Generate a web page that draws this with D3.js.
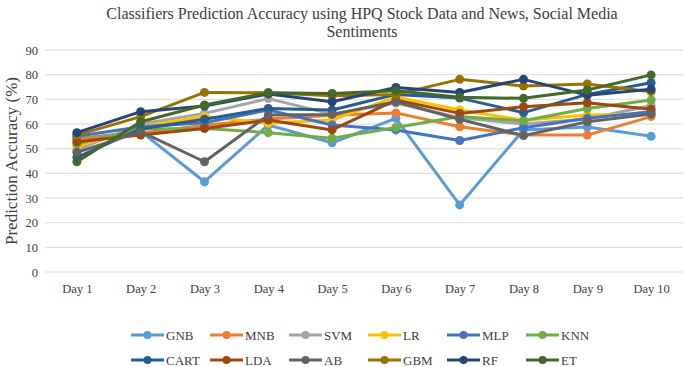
<!DOCTYPE html>
<html>
<head>
<meta charset="utf-8">
<script src="https://cdn.jsdelivr.net/npm/d3@7"></script>
<style>
  body { margin: 0; background: #fff; }
  svg text { font-family: "Liberation Serif", "Times New Roman", Tinos, "DejaVu Serif", serif !important; fill: #404040; }
</style>
</head>
<body>
<div id="graph"></div>
<script>
// chart data
const days = ['Day 1', 'Day 2', 'Day 3', 'Day 4', 'Day 5', 'Day 6', 'Day 7', 'Day 8', 'Day 9', 'Day 10'];
const yTicks = [0, 10, 20, 30, 40, 50, 60, 70, 80, 90];

const GNB  = [54.0, 57.0, 36.6, 59.6, 52.4, 62.3, 27.2, 57.6, 58.8, 55.0];
const MNB  = [54.0, 56.3, 59.5, 62.0, 63.5, 64.5, 58.9, 55.5, 55.5, 63.0];
const SVM  = [49.5, 60.0, 64.3, 70.3, 64.0, 68.5, 62.5, 60.0, 62.0, 67.5];
const LR   = [50.8, 59.0, 63.0, 60.3, 61.6, 71.0, 65.7, 61.5, 63.6, 64.0];
const MLP  = [55.0, 58.9, 60.5, 65.7, 59.6, 57.6, 53.3, 58.5, 62.3, 65.0];
const KNN  = [52.0, 58.0, 58.2, 56.5, 54.2, 58.6, 63.0, 61.3, 66.3, 69.7];
const CART = [46.5, 58.0, 61.9, 66.3, 65.7, 72.0, 70.5, 64.6, 72.0, 76.7];
const LDA  = [52.8, 55.5, 58.2, 61.6, 57.6, 69.7, 64.3, 67.0, 68.6, 66.0];
const AB   = [48.5, 56.9, 44.7, 63.6, 63.9, 69.0, 61.9, 55.3, 60.9, 64.0];
const GBM  = [55.5, 63.0, 72.8, 72.7, 71.5, 72.0, 78.1, 75.4, 76.2, 73.1];
const RF   = [56.5, 65.0, 67.3, 72.2, 69.0, 74.8, 72.8, 78.1, 71.7, 74.1];
const ET   = [44.7, 60.9, 67.7, 72.7, 72.4, 73.5, 70.8, 70.4, 73.8, 79.9];

const seriesNames = ['GNB', 'MNB', 'SVM', 'LR', 'MLP', 'KNN', 'CART', 'LDA', 'AB', 'GBM', 'RF', 'ET'];
const seriesValues = [GNB, MNB, SVM, LR, MLP, KNN, CART, LDA, AB, GBM, RF, ET];
const colors = ['#5B9BD5', '#ED7D31', '#A5A5A5', '#FFC000', '#4472C4', '#70AD47',
                '#255E91', '#9E480E', '#636363', '#997300', '#264478', '#43682B'];

const series = seriesNames.map((name, i) => ({ name, values: seriesValues[i], color: colors[i] }));

const svgWidth = 685;
const svgHeight = 367;
const margin = { top: 50, right: 2, bottom: 95, left: 45 };

const svg = d3.select('#graph')
  .append('svg')
  .attr('width', svgWidth)
  .attr('height', svgHeight);

const x = d3.scalePoint()
  .domain(days)
  .range([margin.left, svgWidth - margin.right])
  .padding(0.5);

const y = d3.scaleLinear()
  .domain([0, 90])
  .range([svgHeight - margin.bottom, margin.top]);

// gridlines
svg.append('g')
  .selectAll('line')
  .data(yTicks)
  .join('line')
  .attr('x1', margin.left)
  .attr('x2', svgWidth - margin.right)
  .attr('y1', d => y(d))
  .attr('y2', d => y(d))
  .attr('stroke', '#d9d9d9')
  .attr('stroke-width', 1);

// y axis labels
const yAxis = svg.append('g')
  .attr('transform', `translate(${margin.left}, 0)`)
  .call(d3.axisLeft(y).tickValues(yTicks).tickSize(0).tickPadding(7));
yAxis.select('.domain').remove();
yAxis.selectAll('text').attr('font-size', 12.5);

// x axis labels
const xAxis = svg.append('g')
  .attr('transform', `translate(0, ${y(0)})`)
  .call(d3.axisBottom(x).tickSize(0).tickPadding(12));
xAxis.select('.domain').remove();
xAxis.selectAll('text').attr('font-size', 12.5);

// title
const title = svg.append('text')
  .attr('text-anchor', 'middle')
  .attr('font-size', 16);
title.append('tspan').attr('x', 362).attr('y', 19)
  .text('Classifiers Prediction Accuracy using HPQ Stock Data and News, Social Media');
title.append('tspan').attr('x', 362).attr('y', 37).text('Sentiments');

// y axis title
svg.append('text')
  .attr('transform', `translate(17, ${y(45)}) rotate(-90)`)
  .attr('text-anchor', 'middle')
  .attr('font-size', 17)
  .text('Prediction Accuracy (%)');

// lines and markers
const line = d3.line()
  .x((d, i) => x(days[i]))
  .y(d => y(d));

const lineG = svg.append('g').attr('class', 'lines');
series.forEach(s => {
  const g = lineG.append('g');
  g.append('path')
    .attr('d', line(s.values))
    .attr('fill', 'none')
    .attr('stroke', s.color)
    .attr('stroke-width', 3)
    .attr('stroke-linejoin', 'round');
  g.selectAll('circle')
    .data(s.values)
    .join('circle')
    .attr('cx', (d, i) => x(days[i]))
    .attr('cy', d => y(d))
    .attr('r', 4.5)
    .attr('fill', s.color);
});

// legend, two rows of six
const legend = svg.append('g');
series.forEach((s, i) => {
  const col = i % 6;
  const row = Math.floor(i / 6);
  const lx = 131 + col * 79;
  const ly = 335 + row * 25;
  const item = legend.append('g').attr('transform', `translate(${lx}, ${ly})`);
  item.append('line')
    .attr('x1', 0).attr('x2', 33)
    .attr('stroke', s.color)
    .attr('stroke-width', 3);
  item.append('circle')
    .attr('cx', 16.5)
    .attr('r', 4)
    .attr('fill', s.color);
  item.append('text')
    .attr('x', 35)
    .attr('dy', '0.35em')
    .attr('font-size', 13)
    .text(s.name);
});
</script>
</body>
</html>
